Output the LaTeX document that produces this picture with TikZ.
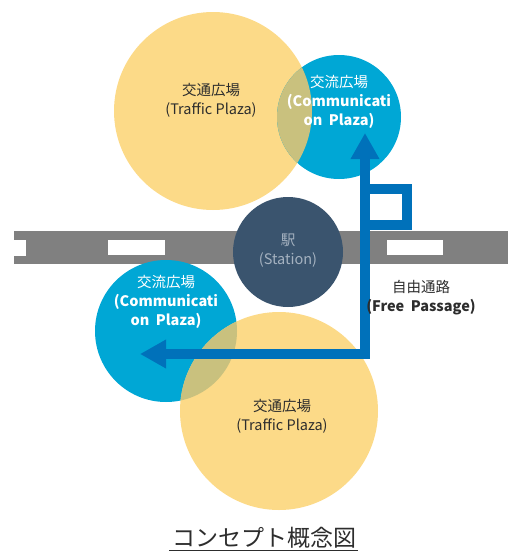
\documentclass[tikz,border=0pt]{standalone}
\usepackage{fontspec}
\setmainfont{Noto Sans CJK JP}
\usetikzlibrary{arrows.meta}
\definecolor{yel}{RGB}{252,218,136}
\definecolor{cyanb}{RGB}{0,167,213}
\definecolor{olive}{RGB}{201,193,126}
\definecolor{stat}{RGB}{58,84,110}
\definecolor{stattxt}{RGB}{165,178,192}
\definecolor{road}{RGB}{128,128,128}
\definecolor{arrowb}{RGB}{0,113,186}
\definecolor{txt}{RGB}{45,45,45}
\tikzset{
  lab/.style={align=center,font=\fontsize{14.5}{19}\selectfont,inner sep=0pt},
  wlab/.style={lab,text=white},
  dlab/.style={lab,text=txt},
  flow/.style={draw=arrowb,line width=9.5pt},
  tipA/.style={-{Triangle[length=26pt,width=27pt]}}
}
\newcommand{\wsp}{\hspace{0.45em}}
\begin{document}
\begin{tikzpicture}[x=1pt,y=-1pt]
\useasboundingbox (0,0) rectangle (508,552);
% road
\fill[road] (14,231) rectangle (508,264);
\fill[white] (14,240) rectangle (26,256);
\fill[white] (108,240) rectangle (165,255);
\fill[white] (387,240) rectangle (443,255);
% top circles
\fill[yel] (213,111) circle[radius=99];
\fill[cyanb] (339,117) circle[radius=62];
\begin{scope}
  \clip (213,111) circle[radius=99];
  \fill[olive] (339,117) circle[radius=62];
\end{scope}
% bottom circles
\fill[cyanb] (166,331) circle[radius=71];
\fill[yel] (279,411) circle[radius=99];
\begin{scope}
  \clip (166,331) circle[radius=71];
  \fill[olive] (279,411) circle[radius=99];
\end{scope}
% station
\fill[stat] (288,252) circle[radius=55];
% arrows
\coordinate (tl) at (140,354);
\coordinate (corner) at (365,354);
\coordinate (tt) at (365,133);
\draw[flow,tipA] (corner) -- (tl);
\draw[flow,tipA] (corner) -- (tt);
\draw[flow] (365,189) rectangle (407,225);
\fill[arrowb] (360.25,349.25) rectangle (369.75,358.75);
% labels
\node[dlab] (t1) at (211,100) {交通広場\\(Traffic Plaza)};
\node[wlab] (c1) at (339,102) {交流広場\\\textbf{(Communicati}\\\textbf{on\wsp Plaza)}};
\node[lab,text=stattxt] (s) at (288,251) {駅\\(Station)};
\node[dlab] (fp) at (421,298) {自由通路\\\textbf{(Free\wsp Passage)}};
\node[wlab] (c2) at (166,302) {交流広場\\\textbf{(Communicati}\\\textbf{on\wsp Plaza)}};
\node[dlab] (t2) at (282,416) {交通広場\\(Traffic Plaza)};
\node[inner sep=0pt,text=txt,font=\fontsize{23}{23}\selectfont] (cap) at (264,538) {コンセプト概念図};
\draw[txt,line width=1pt] (169,550) -- (358,550);
\end{tikzpicture}
\end{document}
